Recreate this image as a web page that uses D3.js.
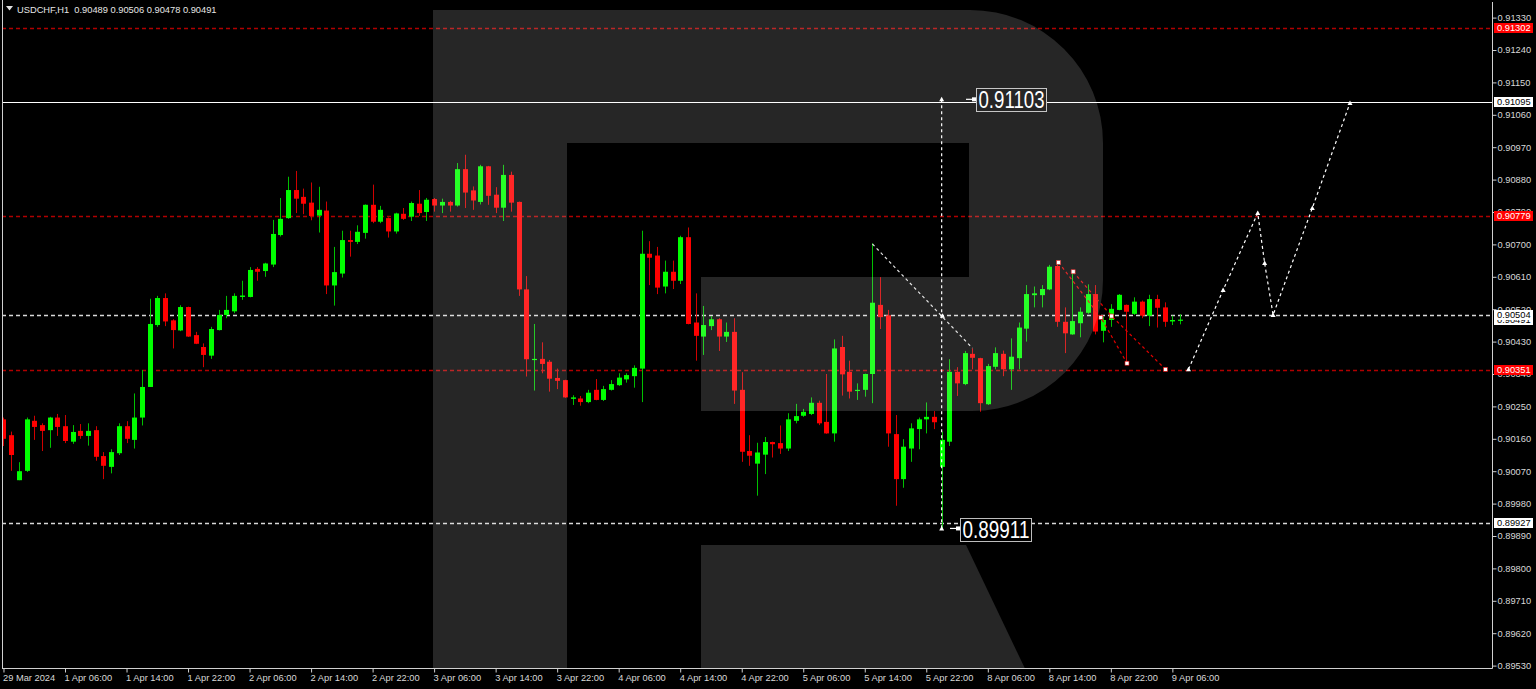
<!DOCTYPE html>
<html><head><meta charset="utf-8">
<script src="https://cdn.jsdelivr.net/npm/d3@7"></script>
<style>html,body{margin:0;padding:0;background:#000;overflow:hidden}svg{display:block}</style>
</head><body>
<svg id="c" width="1536" height="689"></svg>
<script>
const opens=[
0.90214,0.90170,0.90045,0.90071,0.90210,0.90198,0.90184,0.90219,0.90195,0.90152,
0.90182,0.90168,0.90184,0.90112,0.90082,0.90120,0.90195,0.90157,0.90219,0.90304,
0.90476,0.90551,0.90489,0.90461,0.90526,0.90448,0.90415,0.90391,0.90462,0.90504,
0.90514,0.90554,0.90554,0.90632,0.90626,0.90644,0.90726,0.90773,0.90851,0.90832,
0.90816,0.90780,0.90794,0.90586,0.90619,0.90712,0.90707,0.90732,0.90810,0.90763,
0.90773,0.90736,0.90785,0.90777,0.90813,0.90790,0.90826,0.90808,0.90818,0.90808,
0.90909,0.90850,0.90818,0.90917,0.90838,0.90802,0.90893,0.90818,0.90575,0.90379,
0.90382,0.90374,0.90329,0.90323,0.90271,0.90272,0.90262,0.90296,0.90268,0.90296,
0.90309,0.90325,0.90334,0.90355,0.90674,0.90669,0.90583,0.90624,0.90599,0.90720,
0.90483,0.90444,0.90473,0.90492,0.90444,0.90457,0.90296,0.90126,0.90091,0.90116,
0.90151,0.90148,0.90133,0.90210,0.90224,0.90229,0.90260,0.90207,0.90175,0.90415,
0.90346,0.90293,0.90296,0.90340,0.90532,0.90503,0.90173,0.90048,0.90133,0.90187,
0.90214,0.90221,0.90082,0.90152,0.90346,0.90312,0.90396,0.90384,0.90256,0.90360,
0.90396,0.90353,0.90384,0.90466,0.90559,0.90559,0.90575,0.90640,0.90485,0.90450,
0.90481,0.90510,0.90562,0.90460,0.90490,0.90518,0.90532,0.90507,0.90541,0.90502,
0.90548,0.90525,0.90486,0.90489];
const highs=[
0.90219,0.90180,0.90095,0.90219,0.90224,0.90203,0.90221,0.90229,0.90226,0.90198,
0.90201,0.90203,0.90195,0.90123,0.90131,0.90203,0.90209,0.90286,0.90351,0.90549,
0.90557,0.90564,0.90492,0.90531,0.90527,0.90457,0.90425,0.90471,0.90518,0.90557,
0.90564,0.90599,0.90637,0.90637,0.90649,0.90768,0.90829,0.90888,0.90904,0.90855,
0.90872,0.90860,0.90819,0.90693,0.90738,0.90738,0.90753,0.90811,0.90866,0.90807,
0.90775,0.90788,0.90801,0.90819,0.90851,0.90829,0.90829,0.90827,0.90821,0.90926,
0.90949,0.90861,0.90921,0.90918,0.90859,0.90921,0.90902,0.90819,0.90612,0.90479,
0.90428,0.90379,0.90355,0.90324,0.90281,0.90279,0.90296,0.90326,0.90307,0.90323,
0.90342,0.90342,0.90364,0.90738,0.90709,0.90693,0.90655,0.90655,0.90724,0.90747,
0.90564,0.90529,0.90501,0.90495,0.90483,0.90495,0.90345,0.90170,0.90149,0.90165,
0.90152,0.90197,0.90231,0.90257,0.90243,0.90275,0.90266,0.90340,0.90436,0.90446,
0.90377,0.90314,0.90341,0.90703,0.90609,0.90518,0.90226,0.90159,0.90203,0.90219,
0.90261,0.90237,0.90180,0.90381,0.90359,0.90404,0.90411,0.90385,0.90368,0.90414,
0.90405,0.90439,0.90483,0.90587,0.90583,0.90587,0.90643,0.90651,0.90525,0.90624,
0.90525,0.90589,0.90587,0.90499,0.90534,0.90562,0.90533,0.90553,0.90544,0.90560,
0.90560,0.90539,0.90502,0.90506];
const lows=[
0.90140,0.90071,0.90045,0.90068,0.90157,0.90126,0.90135,0.90168,0.90148,0.90146,
0.90160,0.90141,0.90099,0.90048,0.90064,0.90115,0.90148,0.90133,0.90197,0.90304,
0.90471,0.90473,0.90411,0.90459,0.90443,0.90423,0.90359,0.90382,0.90461,0.90495,
0.90509,0.90546,0.90553,0.90599,0.90610,0.90637,0.90722,0.90771,0.90787,0.90784,
0.90767,0.90733,0.90562,0.90530,0.90608,0.90666,0.90701,0.90716,0.90759,0.90759,
0.90719,0.90730,0.90768,0.90765,0.90779,0.90765,0.90791,0.90787,0.90791,0.90805,
0.90801,0.90796,0.90811,0.90810,0.90787,0.90765,0.90791,0.90557,0.90333,0.90294,
0.90342,0.90291,0.90298,0.90274,0.90254,0.90252,0.90259,0.90267,0.90265,0.90294,
0.90307,0.90316,0.90302,0.90262,0.90587,0.90562,0.90564,0.90576,0.90590,0.90478,
0.90377,0.90393,0.90462,0.90404,0.90429,0.90257,0.90096,0.90085,0.90002,0.90062,
0.90108,0.90118,0.90126,0.90203,0.90221,0.90226,0.90198,0.90174,0.90152,0.90280,
0.90272,0.90268,0.90277,0.90259,0.90465,0.90138,0.89974,0.90024,0.90096,0.90131,
0.90175,0.90187,0.89911,0.90140,0.90279,0.90309,0.90353,0.90235,0.90254,0.90353,
0.90334,0.90296,0.90353,0.90430,0.90525,0.90525,0.90573,0.90471,0.90398,0.90449,
0.90442,0.90507,0.90450,0.90428,0.90471,0.90517,0.90370,0.90504,0.90495,0.90473,
0.90469,0.90471,0.90476,0.90478];
const closes=[
0.90160,0.90115,0.90070,0.90214,0.90193,0.90182,0.90219,0.90193,0.90154,0.90179,
0.90168,0.90182,0.90110,0.90085,0.90123,0.90195,0.90160,0.90219,0.90304,0.90479,
0.90551,0.90486,0.90462,0.90526,0.90444,0.90424,0.90393,0.90465,0.90504,0.90518,
0.90557,0.90558,0.90629,0.90624,0.90647,0.90729,0.90771,0.90851,0.90827,0.90813,
0.90779,0.90796,0.90586,0.90623,0.90712,0.90707,0.90735,0.90810,0.90763,0.90796,
0.90736,0.90786,0.90771,0.90815,0.90787,0.90824,0.90808,0.90818,0.90808,0.90909,
0.90844,0.90822,0.90917,0.90835,0.90802,0.90893,0.90816,0.90575,0.90381,0.90382,
0.90368,0.90327,0.90321,0.90275,0.90275,0.90262,0.90288,0.90268,0.90298,0.90312,
0.90330,0.90337,0.90357,0.90674,0.90663,0.90580,0.90624,0.90599,0.90720,0.90479,
0.90446,0.90476,0.90492,0.90444,0.90457,0.90294,0.90124,0.90113,0.90122,0.90151,
0.90145,0.90133,0.90214,0.90223,0.90235,0.90260,0.90203,0.90175,0.90411,0.90339,
0.90291,0.90296,0.90340,0.90538,0.90498,0.90175,0.90048,0.90138,0.90189,0.90214,
0.90221,0.90206,0.90157,0.90346,0.90314,0.90398,0.90385,0.90259,0.90362,0.90398,
0.90353,0.90388,0.90469,0.90562,0.90564,0.90576,0.90638,0.90485,0.90453,0.90487,
0.90513,0.90562,0.90458,0.90490,0.90521,0.90560,0.90513,0.90541,0.90502,0.90548,
0.90524,0.90485,0.90490,0.90491];

const timeTickBars=[0,8,16,24,32,40,48,56,64,72,80,88,96,104,112,120,128,136,144,152];
const timeTickLabels=["29 Mar 2024","1 Apr 06:00","1 Apr 14:00","1 Apr 22:00","2 Apr 06:00","2 Apr 14:00","2 Apr 22:00","3 Apr 06:00","3 Apr 14:00","3 Apr 22:00","4 Apr 06:00","4 Apr 14:00","4 Apr 22:00","5 Apr 06:00","5 Apr 14:00","5 Apr 22:00","8 Apr 06:00","8 Apr 14:00","8 Apr 22:00","9 Apr 06:00"];
const priceTicks=[0.91330,0.91240,0.91150,0.91060,0.90970,0.90880,0.90790,0.90700,0.90610,0.90520,0.90430,0.90340,0.90250,0.90160,0.90070,0.89980,0.89890,0.89800,0.89710,0.89620,0.89530];

const redLevels=[0.91302,0.90779,0.90351];
const whiteSolidLevels=[0.91095];
const whiteDashLevels=[0.90504,0.89927];
const currentPrice=0.90491;
const rangeBar=122, rangeHigh=0.91103, rangeLow=0.89911;
const trendLine=[[113,0.90701],[126,0.90412]];
const trendMarker=[122.1,0.90502];
const redPathA=[[137.2,0.90650],[142.7,0.90497],[146.1,0.90370]];
const redPathB=[[139.1,0.90624],[144.1,0.90501],[151.1,0.90353]];
const forecast=[[154.1,0.90353],[158.6,0.90573],[163.1,0.90787],[164.0,0.90648],[165.1,0.90504],[170.2,0.90801],[175.1,0.91093]];
const title="USDCHF,H1  0.90489 0.90506 0.90478 0.90491";

const W=1536,H=689, L=2, R=1492, B=668;
const x=d3.scaleLinear().domain([0,1]).range([3.48,3.48+7.69]);
const y=d3.scaleLinear().domain([0.89530,0.91330]).range([665.6,17.6]);
const svg=d3.select('#c');
const FONT='"Liberation Sans", Arial, sans-serif';
svg.append('rect').attr('width',W).attr('height',H).attr('fill','#000');
svg.append('defs').append('clipPath').attr('id','plot').append('rect').attr('x',L+1).attr('y',0).attr('width',R-L-1).attr('height',B);
const plot=svg.append('g').attr('clip-path','url(#plot)');

// level lines
plot.selectAll('.rl').data(redLevels).join('line').attr('x1',L).attr('x2',R)
  .attr('y1',d=>Math.round(y(d))+0.5).attr('y2',d=>Math.round(y(d))+0.5)
  .attr('stroke','#b00000').attr('stroke-width',1.6).attr('stroke-dasharray','4,3');
plot.selectAll('.wl').data(whiteDashLevels).join('line').attr('x1',L).attr('x2',R)
  .attr('y1',d=>Math.round(y(d))+0.5).attr('y2',d=>Math.round(y(d))+0.5)
  .attr('stroke','#d8d8d8').attr('stroke-width',1.3).attr('stroke-dasharray','4,3');
plot.selectAll('.ws').data(whiteSolidLevels).join('line').attr('x1',L).attr('x2',R)
  .attr('y1',d=>Math.round(y(d))+0.5).attr('y2',d=>Math.round(y(d))+0.5)
  .attr('stroke','#ffffff').attr('stroke-width',1);

// candles
const idx=d3.range(opens.length);
const up=i=>closes[i]>=opens[i];
plot.append('g').selectAll('line').data(idx).join('line')
  .attr('x1',i=>Math.round(x(i))+0.5).attr('x2',i=>Math.round(x(i))+0.5)
  .attr('y1',i=>y(highs[i])).attr('y2',i=>y(lows[i]))
  .attr('stroke',i=>up(i)?'#00c000':'#d00000').attr('stroke-width',1);
plot.append('g').selectAll('rect').data(idx).join('rect')
  .attr('x',i=>Math.round(x(i))-2).attr('width',5)
  .attr('y',i=>y(Math.max(opens[i],closes[i])))
  .attr('height',i=>Math.max(1.2,Math.abs(y(opens[i])-y(closes[i]))))
  .attr('fill',i=>up(i)?'#00ff00':'#ff0000');

// annotations
const pt=d=>[x(d[0]),y(d[1])];
const line=d3.line().x(d=>x(d[0])).y(d=>y(d[1]));
plot.append('path').attr('d',line(trendLine)).attr('fill','none').attr('stroke','#e0e0e0').attr('stroke-width',1.2).attr('stroke-dasharray','3,3');
[redPathA,redPathB].forEach(p=>plot.append('path').attr('d',line(p)).attr('fill','none').attr('stroke','#e00000').attr('stroke-width',1.2).attr('stroke-dasharray','3,3'));
plot.append('path').attr('d',line(forecast)).attr('fill','none').attr('stroke','#ffffff').attr('stroke-width',1.2).attr('stroke-dasharray','3,3');
plot.append('line').attr('x1',x(rangeBar)).attr('x2',x(rangeBar)).attr('y1',y(rangeHigh)).attr('y2',y(rangeLow))
  .attr('stroke','#ffffff').attr('stroke-width',1.2).attr('stroke-dasharray','3,3');
const sq=[].concat(redPathA,redPathB);
plot.selectAll('.mk').data(sq).join('rect').attr('x',d=>x(d[0])-2).attr('y',d=>y(d[1])-2).attr('width',4).attr('height',4)
  .attr('fill','#ffffff').attr('stroke','#e00000').attr('stroke-width',0.6);
const arrows=forecast.concat([trendMarker,[rangeBar,rangeHigh],[rangeBar,rangeLow]]);
plot.selectAll('.ar').data(arrows).join('path')
  .attr('d',d=>{const [px,py]=pt(d);return `M${px-2.5},${py+2} L${px},${py-2.5} L${px+2.5},${py+2} Z`;})
  .attr('fill','#ffffff');

function rangeLabel(price, bx, by, bw, bh){
  const yy=y(price);
  plot.append('line').attr('x1',bx-10).attr('x2',bx).attr('y1',yy).attr('y2',yy).attr('stroke','#fff').attr('stroke-width',1.2);
  plot.append('rect').attr('x',bx-4).attr('y',yy-2).attr('width',4).attr('height',4).attr('fill','#fff');
  plot.append('rect').attr('x',bx+0.5).attr('y',by+0.5).attr('width',bw).attr('height',bh).attr('fill','#000').attr('stroke','#bdbdbd').attr('stroke-width',1);
  plot.append('text').attr('x',bx+2.5).attr('y',by+bh-3.5).text(d3.format('.5f')(price))
    .attr('fill','#fff').attr('font-family',FONT).attr('font-size',23).attr('textLength',bw-4).attr('lengthAdjust','spacingAndGlyphs');
}
rangeLabel(rangeHigh, 976, 88, 70, 23);
rangeLabel(rangeLow, 960, 518, 71, 23);

// watermark overlay (R logo)
plot.append('path').attr('d','M433,10 H970 A133,133 0 0 1 1103,143 V280 A131,131 0 0 1 972,411 H701 V277 H969 V143 H567 V700 H433 Z')
  .attr('fill','#ffffff').attr('fill-opacity',0.15);
plot.append('path').attr('d','M701,545 H966 L1040,700 H701 Z').attr('fill','#ffffff').attr('fill-opacity',0.15);

svg.append('line').attr('x1',L+0.5).attr('x2',L+0.5).attr('y1',0).attr('y2',B).attr('stroke','#d0d0d0');

const ax=d3.axisRight(y).tickValues(priceTicks).tickSize(4).tickPadding(1).tickFormat(d3.format('.5f'));
const gy=svg.append('g').attr('transform',`translate(${R+0.5},0)`).call(ax);
gy.select('.domain').attr('stroke','#d0d0d0').attr('d',`M0,2V${B+0.5}`);
gy.selectAll('.tick line').attr('stroke','#d0d0d0');
gy.selectAll('.tick text').attr('fill','#d8d8d8').attr('font-family',FONT).attr('font-size',9.3);

const axb=d3.axisBottom(x).tickValues(timeTickBars).tickSize(4).tickPadding(2).tickFormat((d,i)=>timeTickLabels[i]);
const gx=svg.append('g').attr('transform',`translate(0,${B+0.5})`).call(axb);
gx.select('.domain').attr('stroke','#d0d0d0').attr('d',`M${L},0H${R+0.5}`);
gx.selectAll('.tick line').attr('stroke','#d0d0d0');
gx.selectAll('.tick text').attr('fill','#d8d8d8').attr('font-family',FONT).attr('font-size',9.3).attr('text-anchor','start').attr('dx',-1);

function box(price, bg, fg){
  const yy=Math.round(y(price));
  const g=svg.append('g');
  g.append('rect').attr('x',1494).attr('y',yy-5).attr('width',39).attr('height',10).attr('fill',bg);
  g.append('text').attr('x',1497).attr('y',yy+3.4).text(d3.format('.5f')(price)).attr('fill',fg).attr('font-family',FONT).attr('font-size',9.3);
}
box(currentPrice,'#ffffff','#000');
whiteDashLevels.forEach(p=>box(p,'#ffffff','#000'));
whiteSolidLevels.forEach(p=>box(p,'#ffffff','#000'));
redLevels.forEach(p=>box(p,'#ff0000','#ffffff'));

svg.append('path').attr('d','M6,6 H13 L9.5,10.5 Z').attr('fill','#e0e0e0');
svg.append('text').attr('x',17).attr('y',13).text(title).attr('fill','#e6e6e6').attr('font-family',FONT).attr('font-size',9.3).style('white-space','pre');
</script>
</body></html>
